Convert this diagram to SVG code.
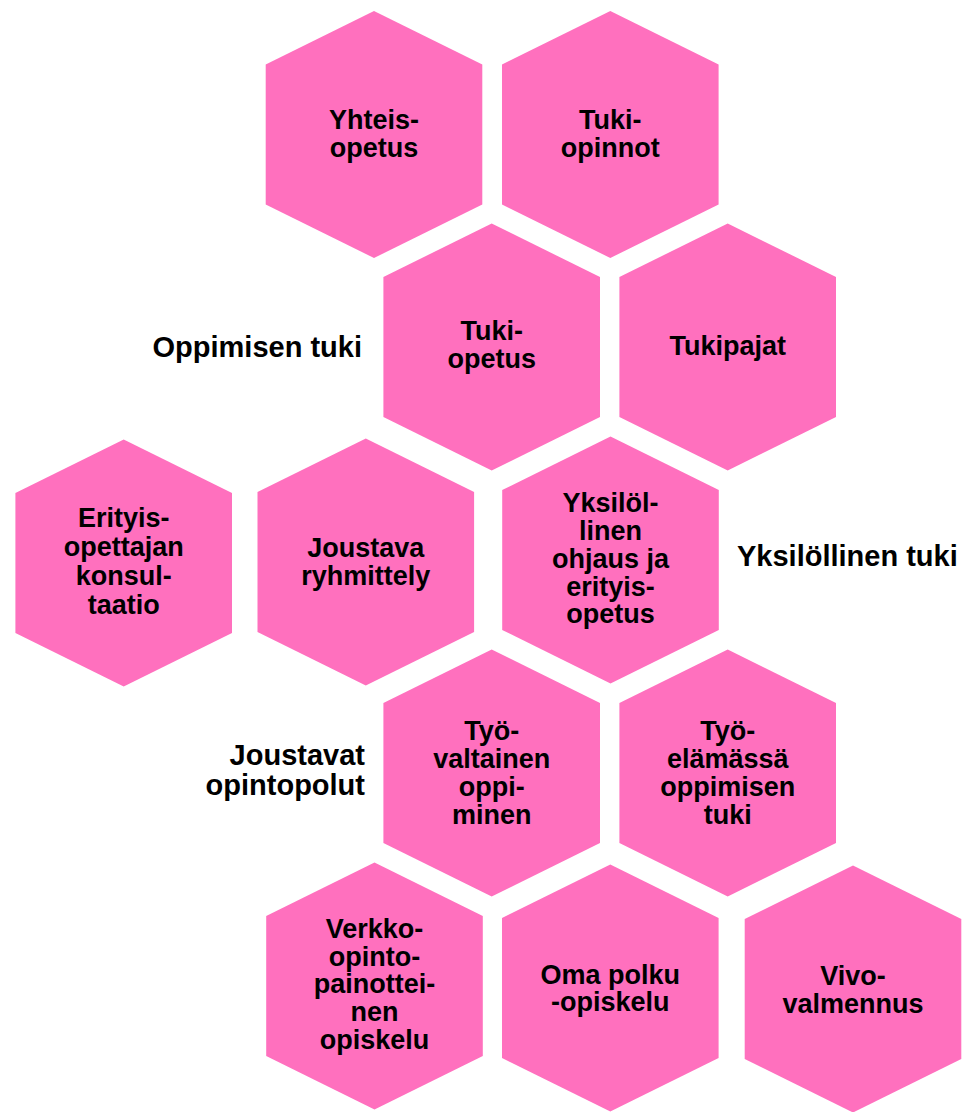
<svg xmlns="http://www.w3.org/2000/svg" width="967" height="1112" viewBox="0 0 967 1112">
<defs>
<polygon id="hex" points="0,-123.5 108.3,-70 108.3,70 0,123.5 -108.3,70 -108.3,-70"/>
</defs>
<style>
.h{fill:#FF70BE}
.t{font-family:"Liberation Sans",Arial,sans-serif;font-weight:bold;font-size:27px;fill:#000;text-anchor:middle}
.l{font-family:"Liberation Sans",Arial,sans-serif;font-weight:bold;font-size:29px;fill:#000}
</style>
<rect width="967" height="1112" fill="#fff"/>
<g id="yhteisopetus"><use href="#hex" class="h" x="374" y="134.5"/><text class="t" x="374" y="128.5">Yhteis-</text><text class="t" x="374" y="156.5">opetus</text></g>
<g id="tukiopinnot"><use href="#hex" class="h" x="610.3" y="134.5"/><text class="t" x="610.3" y="128.5">Tuki-</text><text class="t" x="610.3" y="156.5">opinnot</text></g>
<g id="tukiopetus"><use href="#hex" class="h" x="491.7" y="347"/><text class="t" x="491.7" y="340">Tuki-</text><text class="t" x="491.7" y="368">opetus</text></g>
<g id="tukipajat"><use href="#hex" class="h" x="727.7" y="347"/><text class="t" x="727.7" y="355">Tukipajat</text></g>
<g id="erityis"><use href="#hex" class="h" x="123.7" y="563"/><text class="t" x="123.7" y="527">Erityis-</text><text class="t" x="123.7" y="556">opettajan</text><text class="t" x="123.7" y="585">konsul-</text><text class="t" x="123.7" y="614">taatio</text></g>
<g id="joustava"><use href="#hex" class="h" x="365.8" y="562"/><text class="t" x="365.8" y="557">Joustava</text><text class="t" x="365.8" y="585">ryhmittely</text></g>
<g id="yksilollinen"><use href="#hex" class="h" x="610.5" y="560"/><text class="t" x="610.5" y="512">Yksilöl-</text><text class="t" x="610.5" y="540">linen</text><text class="t" x="610.5" y="567.5">ohjaus ja</text><text class="t" x="610.5" y="595.5">erityis-</text><text class="t" x="610.5" y="623">opetus</text></g>
<g id="tyovaltainen"><use href="#hex" class="h" x="491.7" y="773"/><text class="t" x="491.7" y="740">Työ-</text><text class="t" x="491.7" y="768">valtainen</text><text class="t" x="491.7" y="796">oppi-</text><text class="t" x="491.7" y="824">minen</text></g>
<g id="tyoelamassa"><use href="#hex" class="h" x="727.7" y="773"/><text class="t" x="727.7" y="740">Työ-</text><text class="t" x="727.7" y="768">elämässä</text><text class="t" x="727.7" y="796">oppimisen</text><text class="t" x="727.7" y="824">tuki</text></g>
<g id="verkko"><use href="#hex" class="h" x="374.5" y="986"/><text class="t" x="374.5" y="938">Verkko-</text><text class="t" x="374.5" y="965.5">opinto-</text><text class="t" x="374.5" y="993">painottei-</text><text class="t" x="374.5" y="1021">nen</text><text class="t" x="374.5" y="1049">opiskelu</text></g>
<g id="omapolku"><use href="#hex" class="h" x="610.3" y="988"/><text class="t" x="610.3" y="983.5">Oma polku</text><text class="t" x="610.3" y="1011">-opiskelu</text></g>
<g id="vivo"><use href="#hex" class="h" x="853" y="989"/><text class="t" x="853" y="985">Vivo-</text><text class="t" x="853" y="1012.5">valmennus</text></g>
<g id="labels">
<text class="l" x="362" y="357" text-anchor="end">Oppimisen tuki</text>
<text class="l" x="737" y="566">Yksilöllinen tuki</text>
<text class="l" x="365" y="765" text-anchor="end">Joustavat</text>
<text class="l" x="365" y="795" text-anchor="end">opintopolut</text>
</g>
<g id="connectors"/>
</svg>
